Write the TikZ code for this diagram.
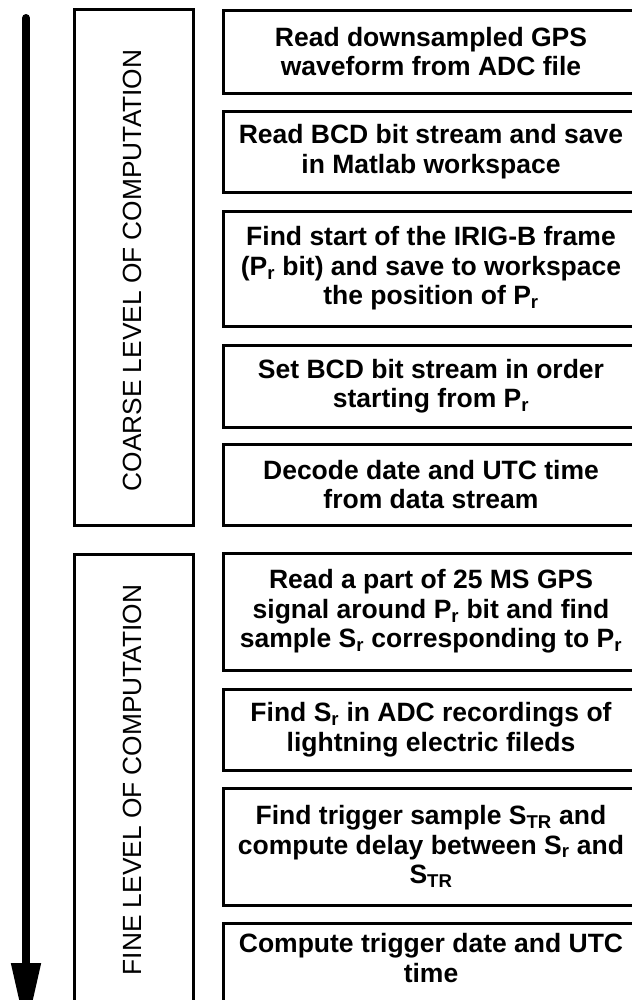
\documentclass[tikz,border=0pt]{standalone}
\usepackage{fontspec}
\setmainfont{Liberation Sans}
\usetikzlibrary{arrows.meta}

\begin{document}
\begin{tikzpicture}[x=1bp,y=-1bp,
  stepbox/.style={draw, line width=3bp, minimum width=416bp, inner sep=0pt,
    align=center, font=\bfseries\fontsize{26.5bp}{29.5bp}\selectfont},
  groupbox/.style={draw, line width=3bp, minimum width=119bp, inner sep=0pt},
  grouplabel/.style={rotate=90, inner sep=0pt, font=\fontsize{26.3bp}{30bp}\selectfont},
  flowarrow/.style={line width=8bp, line cap=round, -{Triangle[length=69bp,width=28bp]}}]

  \useasboundingbox (0,0) rectangle (632,1000);
  \fill[white] (0,0) rectangle (632,1000);
  \clip (0,0) rectangle (632,1000);

  % direction of processing
  \coordinate (flowtop) at (26,18);
  \coordinate (flowend) at (26,1032);
  \draw[flowarrow] (flowtop) -- (flowend);

  % the two levels of computation
  \node[groupbox, minimum height=515bp] (coarse) at (133.5,267.5) {};
  \node[grouplabel] (coarselbl) at (132.5,270.5) {COARSE LEVEL OF COMPUTATION};
  \node[groupbox, minimum height=452bp] (fine) at (133.5,780) {};
  \node[grouplabel] (finelbl) at (132.5,780) {FINE LEVEL OF COMPUTATION};

  % coarse steps
  \node[stepbox, minimum height=83bp] (b1) at (431,51.5)
    {Read downsampled GPS\\waveform from ADC file};
  \node[stepbox, minimum height=81bp] (b2) at (431,151.5)
    {Read BCD bit stream and save\\in Matlab workspace};
  \node[stepbox, minimum height=115bp] (b3) at (431,268.5)
    {Find start of the IRIG-B frame\\(P\textsubscript{r} bit) and save to workspace\\the position of P\textsubscript{r}};
  \node[stepbox, minimum height=82bp] (b4) at (431,386)
    {Set BCD bit stream in order\\starting from P\textsubscript{r}};
  \node[stepbox, minimum height=81bp] (b5) at (431,484.5)
    {Decode date and UTC time\\from data stream};

  % fine steps
  \node[stepbox, minimum height=117bp] (b6) at (431,611.5)
    {Read a part of 25 MS GPS\\signal around P\textsubscript{r} bit and find\\sample S\textsubscript{r} corresponding to P\textsubscript{r}};
  \node[stepbox, minimum height=81bp] (b7) at (431,729.5)
    {Find S\textsubscript{r} in ADC recordings of\\lightning electric fileds};
  \node[stepbox, minimum height=117bp] (b8) at (431,846.5)
    {Find trigger sample S\textsubscript{TR} and\\compute delay between S\textsubscript{r} and\\S\textsubscript{TR}};
  \node[stepbox, minimum height=86bp] (b9) at (431,966) {};
  \node[stepbox, draw=none, minimum height=0pt] (b9text) at (431,958)
    {Compute trigger date and UTC\\time};
\end{tikzpicture}
\end{document}
